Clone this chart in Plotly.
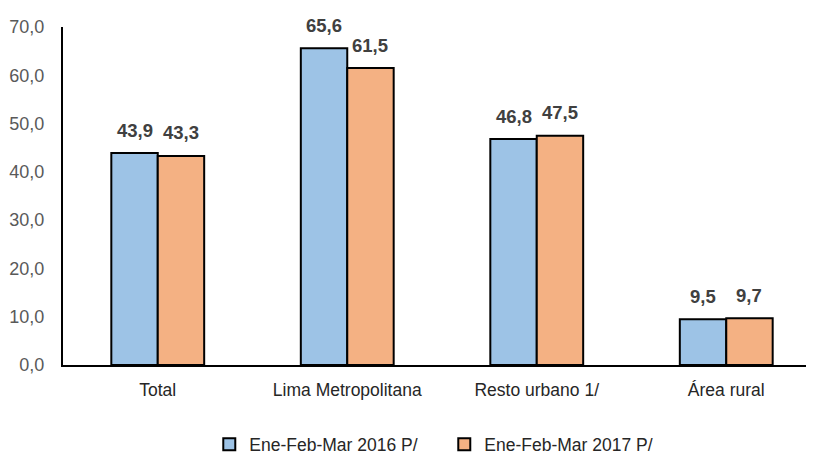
import plotly.graph_objects as go

categories = ["Total", "Lima Metropolitana", "Resto urbano 1/", "Área rural"]
series_2016 = [43.9, 65.6, 46.8, 9.5]
series_2017 = [43.3, 61.5, 47.5, 9.7]
name_2016 = "Ene-Feb-Mar 2016 P/"
name_2017 = "Ene-Feb-Mar 2017 P/"
tick_vals = [0, 10, 20, 30, 40, 50, 60, 70]

regular = "Liberation Sans, Arial, sans-serif"
bargap = 0.51

fig = go.Figure()
series = [(name_2016, series_2016, "#9DC3E6"), (name_2017, series_2017, "#F4B183")]
for name, vals, color in series:
    fig.add_trace(go.Bar(
        x=categories, y=vals, name=name,
        marker=dict(color=color, line=dict(color="black", width=2)),
        cliponaxis=False,
    ))

# value labels above each bar (placed via data coordinates)
plot_w = 814 - 55 - 1
slot = plot_w / len(categories)
bar_w = slot * (1 - bargap) / len(series)
for k, (name, vals, color) in enumerate(series):
    offset = (k - (len(series) - 1) / 2) * bar_w
    for cat, v in zip(categories, vals):
        fig.add_annotation(
            x=cat, y=v, xref="x", yref="y",
            text="<b>" + f"{v:.1f}".replace(".", ",") + "</b>",
            showarrow=False, xshift=offset, yshift=23, yanchor="middle",
            font=dict(family=regular, size=18.5, color="#404040"),
        )

fig.update_layout(
    width=814, height=457,
    margin=dict(l=55, r=1, t=19, b=100),
    plot_bgcolor="white", paper_bgcolor="white",
    separators=",.",
    barmode="group", bargap=bargap, bargroupgap=0,
    font=dict(family=regular, size=17, color="#595959"),
    showlegend=True,
    legend=dict(orientation="h", x=0.503, xanchor="center", y=-0.235, yanchor="middle",
                font=dict(family=regular, size=17.5, color="#262626"),
                entrywidth=190, itemwidth=30),
    xaxis=dict(showline=True, linecolor="black", linewidth=2, ticks="",
               ticklabelstandoff=8,
               tickfont=dict(family=regular, size=17.5, color="#262626")),
    yaxis=dict(range=[0, 70], tickvals=tick_vals, tickformat=".1f",
               showline=True, linecolor="black", linewidth=2, showgrid=False,
               zeroline=False, ticks="", ticklen=0, ticklabelstandoff=13,
               tickfont=dict(family=regular, size=18, color="#595959")),
)

fig.write_html("out.html")
